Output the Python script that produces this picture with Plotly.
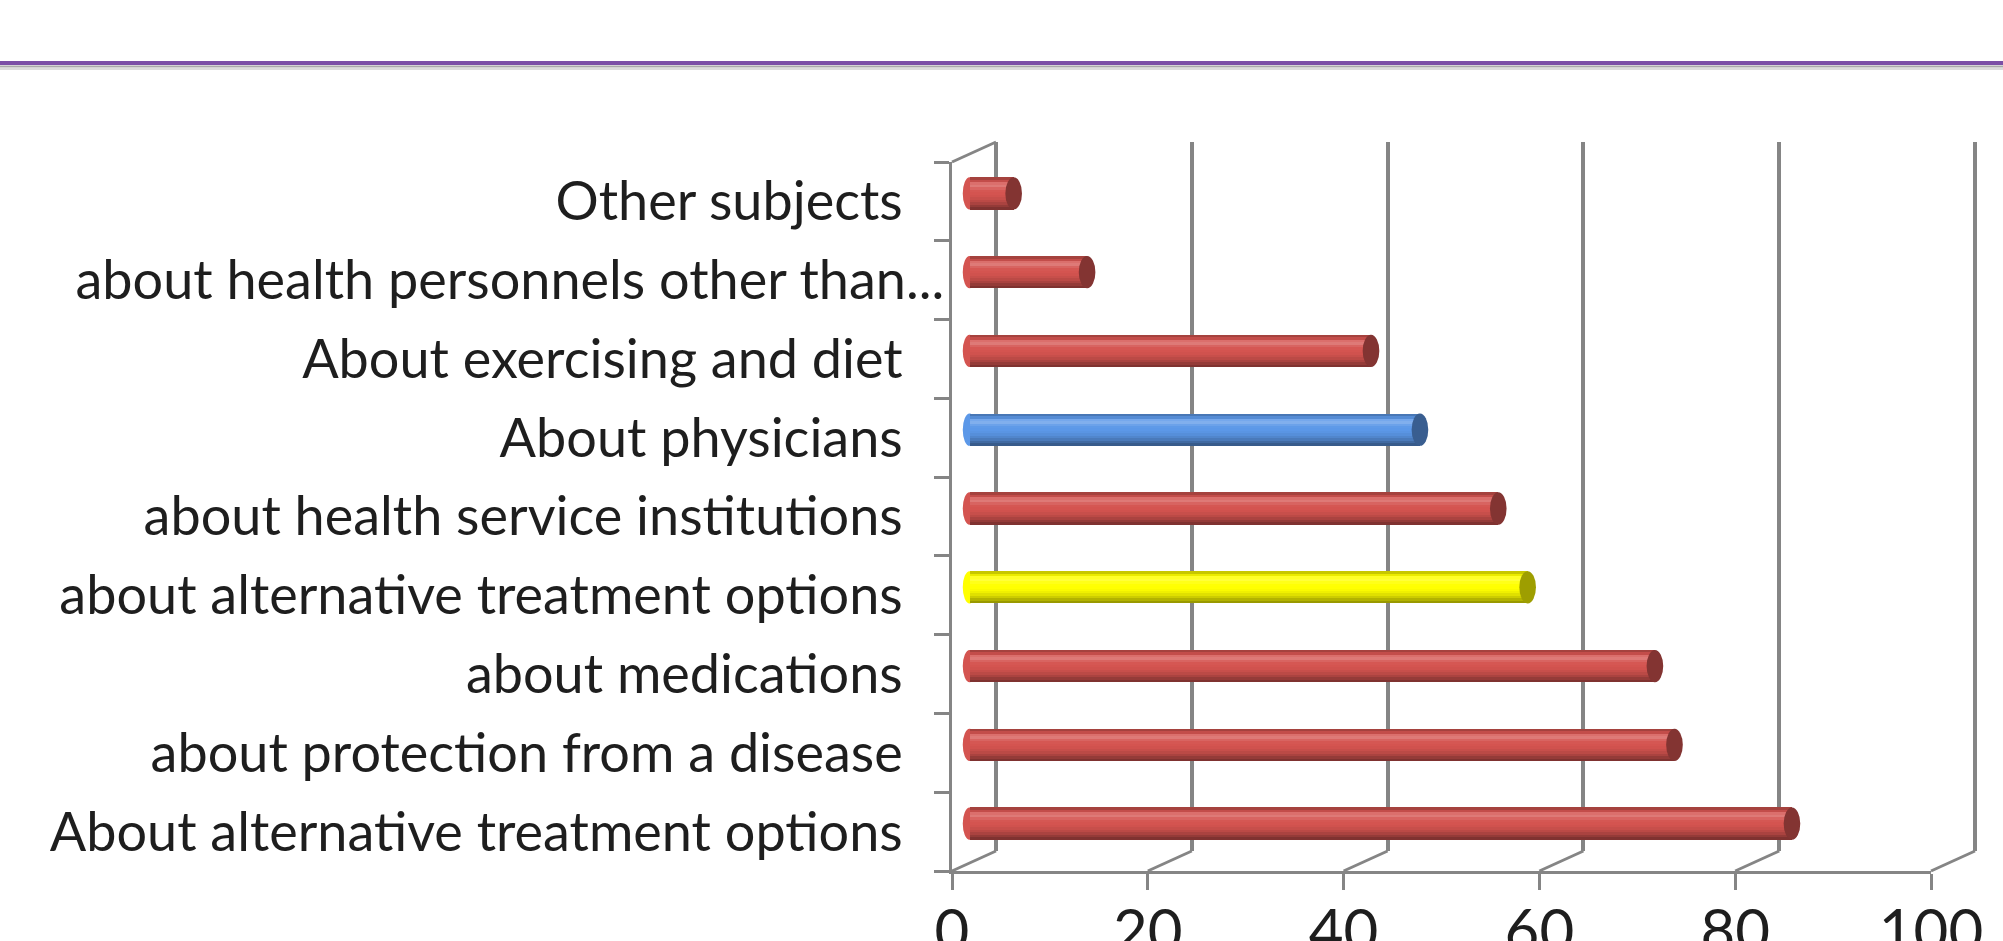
import plotly.graph_objects as go

# ---------------- data ----------------
categories = [
    "Other subjects",
    "about health personnels other than...",
    "About exercising and diet",
    "About physicians",
    "about health service institutions",
    "about alternative treatment options",
    "about medications",
    "about protection from a disease",
    "About alternative treatment options",
]
values = [4.5, 12, 41, 46, 54, 57, 70, 72, 84]
bar_color_names = ["red", "red", "red", "blue", "red", "yellow", "red", "red", "red"]
x_ticks = [0, 20, 40, 60, 80, 100]
x_tick_labels = ["0", "20", "40", "60", "80", "100"]

# ---------------- style / layout ----------------
W, H = 2003, 941
FX0, FX1 = 952, 1931      # front floor edge, px (0 .. 100)
FY0, FY1 = 162, 871       # front wall top / bottom, px
DX, DY = 44, -20          # depth offset to the back wall
BAR_DEPTH = 0.4           # bars sit at 40% of the depth
XMIN3 = -2                # room for the rounded bar starts
PADX2 = 0.6               # keeps the wall edge gridlines inside the range
GRID = "#858585"
TXT = "#1e1e1e"
FONT = "Lato, Carlito, Calibri, sans-serif"

BASE = {"red": (212, 84, 80), "blue": (92, 152, 232), "yellow": (255, 255, 0)}
PROFILE = [0.78, 0.92, 1.10, 1.14, 1.06, 1.01, 1.0, 0.98, 0.94, 0.88, 0.80, 0.70, 0.60]
BAR_W = 0.41


def shade(rgb, f):
    if f >= 1:
        k = min(1.0, (f - 1) * 1.6)
        r, g, b = (c + (255 - c) * k for c in rgb)
    else:
        r, g, b = (c * f for c in rgb)
    return "rgb(%d,%d,%d)" % (round(r), round(g), round(b))


def xdom(x0, x1):
    return [x0 / W, x1 / W]


def ydom(y0, y1):
    return [1 - y1 / H, 1 - y0 / H]


scale = (FX1 - FX0) / 100.0
n = len(categories)
yrange = [n - 0.5, -0.5]
padded = [c if c.endswith("...") else c + "\u00a0" * 3 for c in categories]

fig = go.Figure()

# back wall (gridlines)
fig.add_trace(go.Scatter(x=values, y=categories, xaxis="x2", yaxis="y2", mode="markers",
                         marker=dict(opacity=0), hoverinfo="skip", showlegend=False))
# front axes
fig.add_trace(go.Scatter(x=values, y=categories, xaxis="x", yaxis="y", mode="markers",
                         marker=dict(opacity=0), hoverinfo="skip", showlegend=False))

# cylinder-like bars made of shaded strips
N = len(PROFILE)
rgbs = [BASE[c] for c in bar_color_names]
for k, f in enumerate(PROFILE):
    fig.add_trace(go.Bar(
        x=values, y=categories, orientation="h", xaxis="x3", yaxis="y3",
        width=BAR_W / N * 1.02, offset=-BAR_W / 2 + k * BAR_W / N,
        marker=dict(color=[shade(c, f) for c in rgbs], line=dict(width=0)),
        hoverinfo="skip", showlegend=False,
    ))

shapes = []
# end caps and rounded starts of the bars
for i, (v, c) in enumerate(zip(values, rgbs)):
    shapes.append(dict(type="circle", xref="x3", yref="y3", layer="above",
                       x0=v - 0.85, x1=v + 0.85, y0=i - BAR_W / 2, y1=i + BAR_W / 2,
                       fillcolor=shade(c, 0.62), line=dict(width=0)))
    shapes.append(dict(type="circle", xref="x3", yref="y3", layer="between",
                       x0=-0.7, x1=0.7, y0=i - BAR_W / 2, y1=i + BAR_W / 2,
                       fillcolor=shade(c, 1.0), line=dict(width=0)))

# floor diagonals from the front ticks to the back wall
for v in x_ticks:
    xf = FX0 + v * scale
    shapes.append(dict(type="line", xref="paper", yref="paper", layer="below",
                       x0=xf / W, y0=1 - FY1 / H, x1=(xf + DX) / W, y1=1 - (FY1 + DY) / H,
                       line=dict(color=GRID, width=3)))
# top-left corner of the side wall
shapes.append(dict(type="line", xref="paper", yref="paper", layer="below",
                   x0=FX0 / W, y0=1 - FY0 / H, x1=(FX0 + DX) / W, y1=1 - (FY0 + DY) / H,
                   line=dict(color=GRID, width=3)))

# page rule above the chart
shapes.append(dict(type="line", xref="paper", yref="paper", x0=0, x1=1,
                   y0=1 - 63 / H, y1=1 - 63 / H, line=dict(color="#7b4fa6", width=4)))
shapes.append(dict(type="line", xref="paper", yref="paper", x0=0, x1=1,
                   y0=1 - 66.5 / H, y1=1 - 66.5 / H, line=dict(color="#a9a9a9", width=2)))
shapes.append(dict(type="line", xref="paper", yref="paper", x0=0, x1=1,
                   y0=1 - 69 / H, y1=1 - 69 / H, line=dict(color="#dcdcdc", width=2)))

fig.update_layout(
    width=W, height=H, autosize=False,
    margin=dict(l=0, r=0, t=0, b=0, pad=0),
    paper_bgcolor="white", plot_bgcolor="rgba(0,0,0,0)",
    barmode="overlay", bargap=0,
    font=dict(family=FONT, color=TXT),
    shapes=shapes,
    xaxis=dict(domain=xdom(FX0, FX1), anchor="y", range=[0, 100], automargin=False,
               tickmode="array", tickvals=x_ticks, ticktext=x_tick_labels,
               ticks="outside", ticklen=16, tickwidth=3, tickcolor=GRID,
               showline=True, linecolor=GRID, linewidth=3,
               showgrid=False, zeroline=False,
               tickfont=dict(size=60, family=FONT, color=TXT), ticklabelstandoff=-10),
    yaxis=dict(domain=ydom(FY0, FY1), anchor="x", type="category", automargin=False,
               categoryorder="array", categoryarray=categories, range=yrange,
               tickmode="array", tickvals=categories, ticktext=padded,
               tickson="boundaries", ticks="outside", ticklen=15, tickwidth=3,
               tickcolor=GRID, showline=True, linecolor=GRID, linewidth=3,
               showgrid=False, zeroline=False, ticklabelstandoff=-6,
               tickfont=dict(size=54, family=FONT, color=TXT)),
    xaxis2=dict(domain=xdom(FX0 + DX - PADX2 * scale, FX1 + DX + PADX2 * scale),
                anchor="y2", range=[-PADX2, 100 + PADX2], automargin=False,
                tickmode="array", tickvals=x_ticks, showticklabels=False, ticks="",
                showgrid=True, gridcolor=GRID, gridwidth=3.5, zeroline=False, showline=False),
    yaxis2=dict(domain=ydom(FY0 + DY, FY1 + DY), anchor="x2", type="category",
                automargin=False,
                categoryorder="array", categoryarray=categories, range=yrange,
                showticklabels=False, ticks="", showgrid=False, zeroline=False, showline=False),
    xaxis3=dict(domain=xdom(FX0 + DX * BAR_DEPTH + XMIN3 * scale, FX1 + DX * BAR_DEPTH),
                anchor="y3", range=[XMIN3, 100], visible=False, automargin=False),
    yaxis3=dict(domain=ydom(FY0 + DY * BAR_DEPTH, FY1 + DY * BAR_DEPTH), anchor="x3",
                type="category", categoryorder="array", categoryarray=categories,
                range=yrange, visible=False, automargin=False),
)

fig.write_html("out.html")
